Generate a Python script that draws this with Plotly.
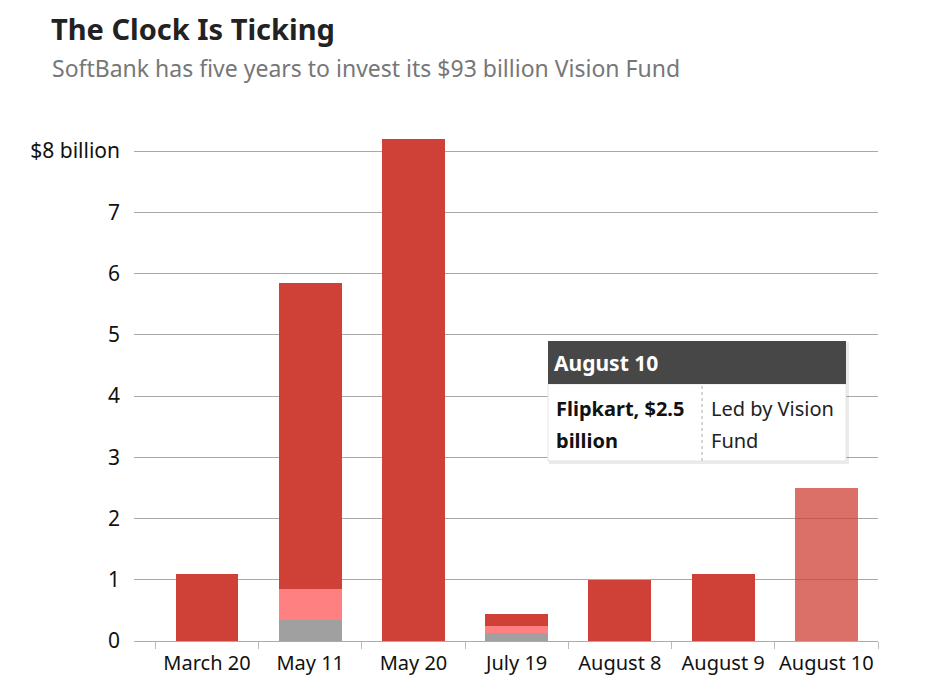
import plotly.graph_objects as go

categories = ["March 20", "May 11", "May 20", "July 19", "August 8", "August 9", "August 10"]
gray_vals = [0, 0.35, 0, 0.135, 0, 0, 0]
pink_vals = [0, 0.5, 0, 0.115, 0, 0, 0]
red_vals = [1.1, 5.0, 8.2, 0.19, 1.0, 1.1, 2.5]
red_opacity = [1, 1, 1, 1, 1, 1, 0.75]
y_ticks = [0, 1, 2, 3, 4, 5, 6, 7, 8]
y_tick_labels = ["0", "1", "2", "3", "4", "5", "6", "7", "$8 billion"]

OFF = 8  # page body margin
W, H = 940 - OFF, 681 - OFF
L, T = 134 - OFF, 136 - OFF
PR, PB = 878 - OFF, 641 - OFF
R, B = W - PR, H - PB
PW, PH = PR - L, PB - T

def px(x):
    return (x - OFF - L) / PW

def py(y):
    return 1 - (y - OFF - T) / PH

FONT = "Noto Sans"
RED = "#CF4037"
PINK = "#FF8080"
GRAY = "#A0A0A0"

fig = go.Figure()
fig.add_trace(go.Bar(x=categories, y=gray_vals, marker=dict(color=GRAY, line=dict(width=0)), width=0.61))
fig.add_trace(go.Bar(x=categories, y=pink_vals, marker=dict(color=PINK, line=dict(width=0)), width=0.61))
fig.add_trace(go.Bar(x=categories, y=red_vals, marker=dict(color=RED, opacity=red_opacity, line=dict(width=0)), width=0.61))

shapes = []
annotations = []

# tooltip box
bx0, bx1, by0, by1, hy = 548, 846, 341, 461, 384
shapes.append(dict(type="rect", xref="paper", yref="paper", x0=px(bx0 + 1), x1=px(bx1 + 3), y0=py(by1 + 3), y1=py(by0 + 1),
                   fillcolor="rgba(0,0,0,0.08)", line=dict(width=0), layer="above"))
shapes.append(dict(type="rect", xref="paper", yref="paper", x0=px(bx0), x1=px(bx1), y0=py(by1), y1=py(hy),
                   fillcolor="white", line=dict(width=1, color="#E4E4E4"), layer="above"))
shapes.append(dict(type="rect", xref="paper", yref="paper", x0=px(bx0), x1=px(bx1), y0=py(hy), y1=py(by0),
                   fillcolor="#474747", line=dict(width=0), layer="above"))
shapes.append(dict(type="line", xref="paper", yref="paper", x0=px(702), x1=px(702), y0=py(by1), y1=py(hy),
                   line=dict(width=1, color="#AAAAAA", dash="dot"), layer="above"))

def txt(x, y, s, size, color, bold=False):
    annotations.append(dict(xref="paper", yref="paper", x=px(x), y=py(y), text=("<b>%s</b>" % s) if bold else s,
                            showarrow=False, xanchor="left", yanchor="middle",
                            font=dict(family=FONT, size=size, color=color)))

txt(552, 363, "August 10", 21, "white", True)
txt(554, 408, "Flipkart, $2.5", 20, "#111111", True)
txt(554, 440, "billion", 20, "#111111", True)
txt(709, 408, "Led by Vision", 20, "#222222")
txt(709, 440, "Fund", 20, "#222222")

# title and subtitle
annotations.append(dict(xref="paper", yref="paper", x=px(50), y=py(OFF), text="<b>The Clock Is Ticking</b>",
                        showarrow=False, xanchor="left", yanchor="top", borderpad=0,
                        font=dict(family=FONT, size=29, color="#222222")))
annotations.append(dict(xref="paper", yref="paper", x=px(50), y=py(68), text="SoftBank has five years to invest its $93 billion Vision Fund",
                        showarrow=False, xanchor="left", yanchor="middle",
                        font=dict(family=FONT, size=23, color="#777777")))

fig.update_layout(
    width=W, height=H,
    margin=dict(l=L, r=R, t=T, b=B, pad=0),
    barmode="stack",
    showlegend=False,
    hovermode=False,
    plot_bgcolor="white",
    paper_bgcolor="white",
    shapes=shapes,
    annotations=annotations,
    font=dict(family=FONT, size=20, color="#111111"),
)
fig.update_xaxes(
    type="category",
    range=[-0.707, 6.5],
    tickson="boundaries",
    ticks="outside",
    ticklen=7,
    tickcolor="#BBBBBB",
    tickangle=0,
    automargin=False,
    showline=True,
    linecolor="#AAAAAA",
    linewidth=1,
    showgrid=False,
    ticklabelstandoff=4,
    tickfont=dict(family=FONT, size=20, color="#111111"),
)
fig.update_yaxes(
    range=[0, 8.245],
    tickvals=y_ticks,
    ticktext=y_tick_labels,
    showgrid=True,
    gridcolor="#A8A8A8",
    gridwidth=1,
    zeroline=False,
    ticks="",
    automargin=False,
    ticklabelstandoff=13,
    tickfont=dict(family=FONT, size=21, color="#111111"),
)

fig.write_html("out.html")
